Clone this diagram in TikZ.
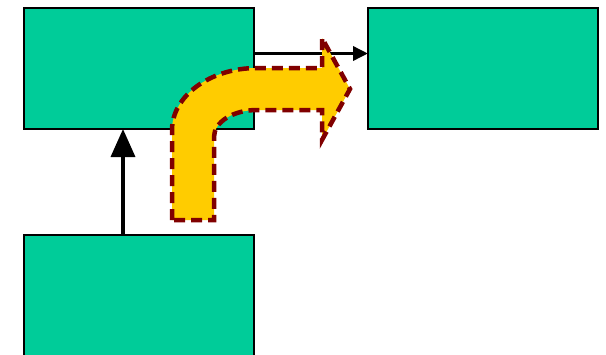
\documentclass[tikz,border=0pt]{standalone}
\usepackage{xcolor}
\usepackage{tikz}
\usetikzlibrary{arrows.meta,positioning}
\definecolor{boxgreen}{HTML}{00CC99}
\definecolor{bendgold}{HTML}{FFCC00}
\definecolor{bendmaroon}{HTML}{800000}

\begin{document}
\begin{tikzpicture}[
  x=1pt,y=-1pt,
  block/.style={draw,line width=2pt,fill=boxgreen,minimum width=230pt,minimum height=121pt,outer sep=0pt},
  arrow/.style={line width=3.5pt},
  bentarrow/.style={fill=bendgold,draw=bendmaroon,line width=4.5pt,dash pattern=on 11pt off 6pt}
]
\useasboundingbox (0,0) rectangle (606,354);
\clip (0,0) rectangle (606,354);
\node[block] (upper) at (139,68.5) {};
\node[block,right=114pt of upper] (target) {};
\node[block,below=106pt of upper] (lower) {};
\draw[arrow,-{Triangle[length=15pt,width=14pt]}] ([yshift=15pt]upper.east) -- ([yshift=15pt]target.west);
\draw[arrow,-{Triangle[length=28pt,width=24pt]}] ([xshift=-16pt]lower.north) -- ([xshift=-16pt]upper.south);
% bent arrow on top
\draw[bentarrow] (172,220) -- (172,130) .. controls (172,96) and (210,68) .. (257,68)
  -- (322,68) -- (322,38) -- (350,89) -- (322,140) -- (322,110) -- (257,110)
  .. controls (233,110) and (214,122) .. (214,137) -- (214,220) -- cycle;
\end{tikzpicture}
\end{document}
